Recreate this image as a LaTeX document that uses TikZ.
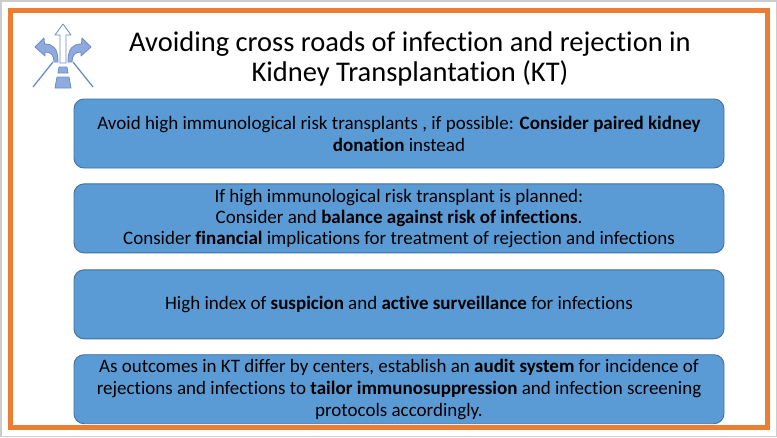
\documentclass[tikz,border=0pt]{standalone}
\usepackage{fontspec}
\setmainfont{Carlito}[Ligatures=NoCommon]
\usetikzlibrary{positioning}
\definecolor{boxblue}{RGB}{91,155,213}
\definecolor{boxline}{RGB}{65,113,156}
\definecolor{frameorange}{RGB}{237,125,49}
\definecolor{iconblue}{RGB}{143,170,220}
\definecolor{iconline}{RGB}{105,140,200}
\begin{document}
\begin{tikzpicture}[x=1pt, y=-1pt,
    box/.style={rectangle, rounded corners=10pt, draw=boxline, fill=boxblue, line width=0.9pt,
        minimum width=650pt, minimum height=69pt, inner sep=0pt, align=center,
        font=\fontsize{19}{22}\selectfont},
    ttl/.style={align=center, font=\fontsize{28.5}{30}\selectfont},
    ico/.style={draw=iconline, fill=iconblue, line width=0.8pt, line join=round},
    road/.style={draw=iconline, line width=1.3pt}
]
\useasboundingbox (0,0) rectangle (777,437);
\fill[white] (0,0) rectangle (777,437);
\draw[gray!40, line width=1.5pt] (0.75,0.75) rectangle (776.25,436.25);
\draw[frameorange, line width=5.5pt] (10.25,10.25) rectangle (767.5,427.5);

% crossroads icon
\begin{scope}[shift={(63,0)}]
\foreach \s in {1,-1} {
    \begin{scope}[xscale=\s]
    \draw[ico] (-28,47) -- (-19,38) -- (-18.5,44) .. controls (-10,44) and (-5,48) .. (-5,62)
        -- (-9,62) .. controls (-9,55) and (-12,52) .. (-18,52) -- (-18,56) -- cycle;
    \draw[road] (-10,62) -- (-30,87);
    \end{scope}
}
\draw[ico, fill=white] (0,24) -- (8,35) -- (3,35) -- (3,63) -- (-3,63) -- (-3,35) -- (-8,35) -- cycle;
\draw[ico] (-4,67) -- (4,67) -- (5,73) -- (-5,73) -- cycle;
\draw[ico] (-6,77) -- (6,77) -- (8,88) -- (-8,88) -- cycle;
\end{scope}

\node[ttl] (title) at (410,59) {Avoiding cross roads of infection and rejection in\\Kidney Transplantation (KT)};

\node[box] (avoid) at (399,133.5) {Avoid high immunological risk transplants , if possible: \textbf{Consider paired kidney}\\\textbf{donation} instead};
\node[box, below=15pt of avoid, font=\fontsize{19}{21}\selectfont] (plan) {If high immunological risk transplant is planned:\\Consider and \textbf{balance against risk of infections}.\\Consider \textbf{financial} implications for treatment of rejection and infections};
\node[box, below=16pt of plan] (watch) {High index of \textbf{suspicion} and \textbf{active surveillance} for infections};
\node[box, below=15pt of watch] (audit) {As outcomes in KT differ by centers, establish an \textbf{audit system} for incidence of\\rejections and infections to \textbf{tailor immunosuppression} and infection screening\\protocols accordingly.};
\end{tikzpicture}
\end{document}
